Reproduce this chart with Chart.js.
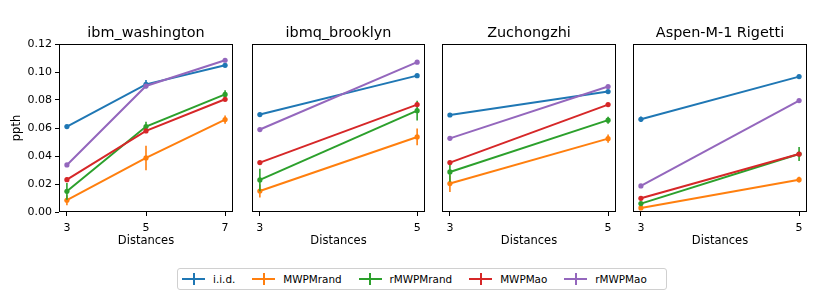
<!DOCTYPE html>
<html>
<head>
<meta charset="utf-8">
<script src="https://cdn.jsdelivr.net/npm/chart.js@4/dist/chart.umd.min.js"></script>
<style>
  body { margin: 0; background: #fff; }
  #fig { position: relative; width: 831px; height: 304px; background: #fff; font-family: "DejaVu Sans", sans-serif; }
  .panel { position: absolute; top: 0; height: 250px; }
  #legend { position: absolute; left: 177px; top: 268px; width: 488px; height: 20px; border: 1px solid #d0d0d0; border-radius: 3px;
            display: flex; align-items: center; font-size: 10.4px; color: #000; box-sizing: content-box; }
  .item { display: flex; align-items: center; margin-left: 4px; margin-right: 13px; }
  .icon { position: relative; width: 23px; height: 12px; margin-right: 8px; }
  .icon .h { position: absolute; left: 0; right: 0; top: 5px; height: 2px; }
  .icon .v { position: absolute; left: 10.5px; width: 2px; top: 0; bottom: 0; }
</style>
</head>
<body>
<div id="fig">
  <div class="panel" style="left:0px;width:237px"><canvas id="c0" width="237" height="250"></canvas></div>
  <div class="panel" style="left:245px;width:184px"><canvas id="c1" width="184" height="250"></canvas></div>
  <div class="panel" style="left:435px;width:185px"><canvas id="c2" width="185" height="250"></canvas></div>
  <div class="panel" style="left:626px;width:185px"><canvas id="c3" width="185" height="250"></canvas></div>
  <div id="legend"></div>
</div>
<script>
// data (ppth per distance, one row per device)
var devices = ['ibm_washington', 'ibmq_brooklyn', 'Zuchongzhi', 'Aspen-M-1 Rigetti'];
var distances = [[3, 5, 7], [3, 5], [3, 5], [3, 5]];

var iid          = [[0.0610, 0.0912, 0.1048], [0.0696, 0.0974], [0.0693, 0.0860], [0.0662, 0.0967]];
var iidErr       = [[0.0010, 0.0030, 0.0010], [0.0010, 0.0010], [0.0010, 0.0010], [0.0020, 0.0010]];
var mwpmRand     = [[0.0084, 0.0386, 0.0660], [0.0150, 0.0536], [0.0203, 0.0524], [0.0029, 0.0231]];
var mwpmRandErr  = [[0.0035, 0.0087, 0.0030], [0.0047, 0.0060], [0.0060, 0.0030], [0.0010, 0.0020]];
var rMwpmRand    = [[0.0148, 0.0610, 0.0840], [0.0229, 0.0724], [0.0286, 0.0656], [0.0060, 0.0414]];
var rMwpmRandErr = [[0.0060, 0.0035, 0.0030], [0.0080, 0.0070], [0.0070, 0.0025], [0.0010, 0.0050]];
var mwpmAo       = [[0.0231, 0.0579, 0.0805], [0.0353, 0.0767], [0.0353, 0.0767], [0.0098, 0.0414]];
var mwpmAoErr    = [[0.0015, 0.0010, 0.0010], [0.0010, 0.0010], [0.0010, 0.0010], [0.0010, 0.0010]];
var rMwpmAo      = [[0.0336, 0.0900, 0.1084], [0.0589, 0.1070], [0.0526, 0.0896], [0.0186, 0.0796]];
var rMwpmAoErr   = [[0.0010, 0.0010, 0.0010], [0.0010, 0.0010], [0.0010, 0.0010], [0.0010, 0.0010]];

var seriesNames  = ['i.i.d.', 'MWPMrand', 'rMWPMrand', 'MWPMao', 'rMWPMao'];
var seriesColors = ['#1f77b4', '#ff7f0e', '#2ca02c', '#d62728', '#9467bd'];
var seriesValues = [iid, mwpmRand, rMwpmRand, mwpmAo, rMwpmAo];
var seriesErrors = [iidErr, mwpmRandErr, rMwpmRandErr, mwpmAoErr, rMwpmAoErr];

var FONT = '"DejaVu Sans", sans-serif';

// vertical error bars, drawn through the chart's own scales
var errorBars = {
    id: 'errorBars',
    afterDatasetDraw: function(chart, args) {
        var ds = chart.data.datasets[args.index];
        if (!ds.errors) return;
        var ctx = chart.ctx;
        var xs = chart.scales.x, ys = chart.scales.y;
        ctx.save();
        ctx.strokeStyle = ds.borderColor;
        ctx.lineWidth = 1.6;
        for (var j = 0; j < ds.data.length; j++) {
            var p = ds.data[j];
            var px = xs.getPixelForValue(p.x);
            ctx.beginPath();
            ctx.moveTo(px, ys.getPixelForValue(p.y - ds.errors[j]));
            ctx.lineTo(px, ys.getPixelForValue(p.y + ds.errors[j]));
            ctx.stroke();
        }
        ctx.restore();
    }
};

// matplotlib-like box around the axes, and the panel title centred over it
var frame = {
    id: 'frame',
    afterDraw: function(chart, args, opts) {
        var a = chart.chartArea, ctx = chart.ctx;
        ctx.save();
        ctx.strokeStyle = '#000';
        ctx.lineWidth = 1;
        ctx.strokeRect(Math.round(a.left) + 0.5, Math.round(a.top) + 0.5,
                       Math.round(a.right - a.left) - 1, Math.round(a.bottom - a.top) - 1);
        ctx.fillStyle = '#000';
        ctx.font = '14.4px ' + FONT;
        ctx.textAlign = 'center';
        ctx.textBaseline = 'middle';
        ctx.fillText(opts.text, (a.left + a.right) / 2, a.top - 11);
        ctx.restore();
    }
};

var yAxisWidths = [59, 7, 7, 7];

for (var i = 0; i < devices.length; i++) {
    (function(i) {
        var xs = distances[i];
        var datasets = [];
        for (var s = 0; s < seriesNames.length; s++) {
            datasets.push({
                label: seriesNames[s],
                data: xs.map(function(x, j) { return { x: x, y: seriesValues[s][i][j] }; }),
                errors: seriesErrors[s][i],
                borderColor: seriesColors[s],
                backgroundColor: seriesColors[s],
                borderWidth: 2,
                pointRadius: 2.6,
                pointBorderWidth: 0,
                pointHoverRadius: 0,
                tension: 0,
                order: seriesNames.length - s
            });
        }
        var span = xs[xs.length - 1] - xs[0];
        var first = i === 0;
        new Chart(document.getElementById('c' + i), {
            type: 'line',
            data: { datasets: datasets },
            options: {
                responsive: false,
                animation: false,
                events: [],
                layout: { padding: { top: 44, right: 4, bottom: 0, left: 0 } },
                plugins: {
                    legend: { display: false },
                    tooltip: { enabled: false },
                    title: { display: false },
                    frame: { text: devices[i] }
                },
                scales: {
                    x: {
                        type: 'linear',
                        min: xs[0] - span * 0.05,
                        max: xs[xs.length - 1] + span * 0.05,
                        afterBuildTicks: function(scale) {
                            scale.ticks = xs.map(function(v) { return { value: v }; });
                        },
                        ticks: { color: '#000', font: { family: FONT, size: 11 }, padding: 6, autoSkip: false, maxRotation: 0,
                                 callback: function(v) { return String(v); } },
                        grid: { drawOnChartArea: false, drawTicks: true, tickLength: 4, color: '#000' },
                        border: { display: false },
                        title: { display: true, text: 'Distances', color: '#000',
                                 font: { family: FONT, size: 11.5 }, padding: { top: 0, bottom: 2 } },
                        afterFit: function(scale) {
                            scale.height = 38;
                            scale.paddingLeft = 0;
                            scale.paddingRight = 0;
                        }
                    },
                    y: {
                        min: 0,
                        max: 0.12,
                        ticks: { display: first, stepSize: 0.02, color: '#000', font: { family: FONT, size: 11 }, padding: 3,
                                 callback: function(v) { return v.toFixed(2); } },
                        grid: { drawOnChartArea: false, drawTicks: first, tickLength: 4, color: '#000' },
                        border: { display: false },
                        title: { display: first, text: 'ppth', color: '#000',
                                 font: { family: FONT, size: 11.5 }, padding: { top: 10, bottom: 0 } },
                        afterFit: function(scale) {
                            scale.width = yAxisWidths[i];
                            scale.paddingTop = 0;
                            scale.paddingBottom = 0;
                        }
                    }
                }
            },
            plugins: [errorBars, frame]
        });
    })(i);
}

// legend below the panels
var legend = document.getElementById('legend');
for (var s = 0; s < seriesNames.length; s++) {
    var item = document.createElement('div');
    item.className = 'item';
    item.innerHTML = '<span class="icon"><span class="h" style="background:' + seriesColors[s] + '"></span>' +
                     '<span class="v" style="background:' + seriesColors[s] + '"></span></span>' +
                     '<span>' + seriesNames[s] + '</span>';
    legend.appendChild(item);
}
</script>
</body>
</html>
